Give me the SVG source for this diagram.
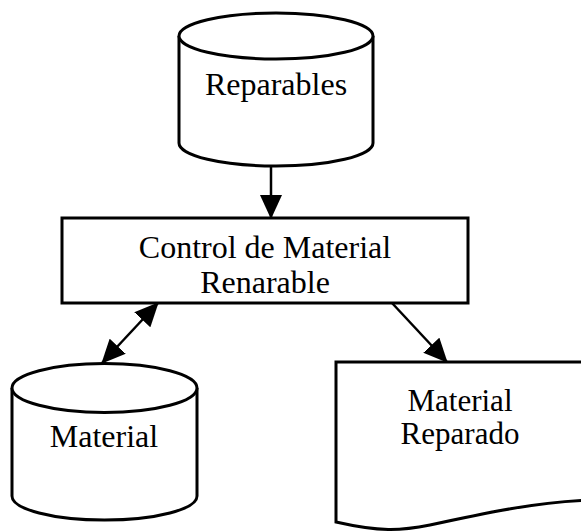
<svg xmlns="http://www.w3.org/2000/svg" width="581" height="532" viewBox="0 0 581 532">
<style>
.shape{fill:#fff;stroke:#000;stroke-width:3}
.edge{fill:none;stroke:#000;stroke-width:2.5}
text{font-family:"Liberation Serif","Times New Roman",serif;font-size:32px;fill:#000;text-anchor:middle}
.sm{font-size:31px}
</style>
<defs>
<marker id="ah" viewBox="0 0 24 22" refX="23" refY="11" markerWidth="24" markerHeight="22" markerUnits="userSpaceOnUse" orient="auto-start-reverse">
<path d="M0,0 L24,11 L0,22 Z" fill="#000"/>
</marker>
</defs>
<rect width="581" height="532" fill="#fff"/>
<g id="reparables">
<path class="shape" d="M179,36 V143 A97,23 0 0 0 373,143 V36"/>
<ellipse class="shape" cx="276" cy="36" rx="97" ry="23"/>
<text x="276" y="95">Reparables</text>
</g>
<g id="control">
<rect class="shape" x="62" y="218" width="406" height="85"/>
<text x="265" y="258">Control de Material</text>
<text x="265" y="293">Renarable</text>
</g>
<g id="material">
<path class="shape" d="M12,388 V496 A92.5,24 0 0 0 197,496 V388"/>
<ellipse class="shape" cx="104.5" cy="388" rx="92.5" ry="24.5"/>
<text x="104" y="447">Material</text>
</g>
<g id="material-reparado">
<path class="shape" d="M336,362 L595,362 L595,500 C540,501 480,514 430,525 C400,531 380,532 336,522 Z"/>
<text class="sm" x="460" y="411">Material</text>
<text class="sm" x="460" y="444">Reparado</text>
</g>
<g id="connectors">
<line class="edge" x1="271" y1="166" x2="271" y2="218" marker-end="url(#ah)"/>
<line class="edge" x1="102" y1="363" x2="158" y2="303" marker-start="url(#ah)" marker-end="url(#ah)"/>
<line class="edge" x1="392" y1="303" x2="447" y2="362" marker-end="url(#ah)"/>
</g>
</svg>
